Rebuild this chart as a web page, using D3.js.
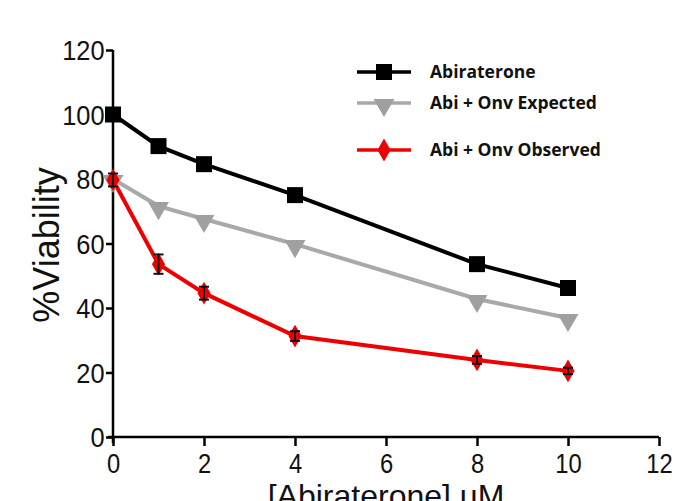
<!DOCTYPE html>
<html>
<head>
<meta charset="utf-8">
<script src="https://cdn.jsdelivr.net/npm/d3@7"></script>
<style>
body { margin: 0; background: #fff; }
</style>
</head>
<body>
<svg width="678" height="501"></svg>
<script>
// data
var doses = [0, 1, 2, 4, 8, 10];
var abiraterone = [100, 90.2, 84.6, 75, 53.6, 46.2];
var expected = [80, 71.6, 67.6, 59.8, 42.8, 36.9];
var observed = [79.7, 53.6, 44.6, 31.3, 23.9, 20.5];
var observedErr = [2, 3, 2, 1.5, 1.2, 1];
var xTicks = [0, 2, 4, 6, 8, 10, 12];
var yTicks = [0, 20, 40, 60, 80, 100, 120];
var seriesNames = ["Abiraterone", "Abi + Onv Expected", "Abi + Onv Observed"];

var svg = d3.select("svg");

var x = d3.scaleLinear().domain([0, 12]).range([113, 659]);
var y = d3.scaleLinear().domain([0, 120]).range([437, 50]);

// axes
var xAxis = svg.append("g")
  .attr("transform", "translate(0," + y(0) + ")")
  .call(d3.axisBottom(x).tickValues(xTicks).tickSize(9).tickPadding(8).tickFormat(d3.format("d")));
var yAxis = svg.append("g")
  .attr("transform", "translate(" + x(0) + ",0)")
  .call(d3.axisLeft(y).tickValues(yTicks).tickSize(7).tickPadding(2).tickFormat(d3.format("d")));

[xAxis, yAxis].forEach(function (g) {
  g.select(".domain").attr("stroke", "#000").attr("stroke-width", 2.5);
  g.selectAll(".tick line").attr("stroke", "#000").attr("stroke-width", 2.5);
  g.selectAll(".tick text")
    .attr("fill", "#111")
    .style("font-family", "Liberation Sans, Arial, sans-serif")
    .style("font-size", "27px");
});
xAxis.selectAll(".tick text").attr("transform", "scale(0.88,1)");
yAxis.selectAll(".tick text").attr("transform", "scale(0.94,1)").attr("dy", "0.36em");
xAxis.select(".domain").attr("d", "M" + (x(0) - 5) + ",0H" + x(12));
yAxis.select(".domain").attr("d", "M0," + (y(0) + 6) + "V" + y(120));

// axis titles
svg.append("text")
  .attr("transform", "translate(59,245) rotate(-90)")
  .attr("text-anchor", "middle")
  .style("font-family", "Liberation Sans, Arial, sans-serif")
  .style("font-size", "36px")
  .attr("fill", "#111")
  .text("%Viability");

svg.append("text")
  .attr("x", 386)
  .attr("y", 507)
  .attr("text-anchor", "middle")
  .style("font-family", "Liberation Sans, Arial, sans-serif")
  .style("font-size", "32px")
  .attr("fill", "#111")
  .text("[Abiraterone] uM");

var line = d3.line()
  .x(function (d, i) { return x(doses[i]); })
  .y(function (d) { return y(d); });

// series lines
svg.append("path").datum(abiraterone)
  .attr("d", line).attr("fill", "none").attr("stroke", "#000").attr("stroke-width", 4);
svg.append("path").datum(expected)
  .attr("d", line).attr("fill", "none").attr("stroke", "#a9a9a9").attr("stroke-width", 4);
svg.append("path").datum(observed)
  .attr("d", line).attr("fill", "none").attr("stroke", "#ee0000").attr("stroke-width", 4);

var sq = d3.symbol().type(d3.symbolSquare).size(256);
var tri = d3.symbol().type(d3.symbolTriangle).size(190);
var dia = d3.symbol().type(d3.symbolDiamond).size(150);

svg.append("g").selectAll("path")
  .data(abiraterone).enter().append("path")
  .attr("transform", function (d, i) { return "translate(" + x(doses[i]) + "," + y(d) + ")"; })
  .attr("d", sq).attr("fill", "#000");

svg.append("g").selectAll("path")
  .data(expected).enter().append("path")
  .attr("transform", function (d, i) { return "translate(" + x(doses[i]) + "," + (y(d) + 2) + ") rotate(180)"; })
  .attr("d", tri).attr("fill", "#a0a0a0");

svg.append("g").selectAll("path")
  .data(observed).enter().append("path")
  .attr("transform", function (d, i) { return "translate(" + x(doses[i]) + "," + y(d) + ")"; })
  .attr("d", dia).attr("fill", "#ee0000");

// error bars on observed
var eb = svg.append("g").attr("stroke", "#111").attr("stroke-width", 2);
observed.forEach(function (d, i) {
  var cx = x(doses[i]);
  var top = y(d + observedErr[i]), bot = y(d - observedErr[i]);
  eb.append("line").attr("x1", cx).attr("x2", cx).attr("y1", top).attr("y2", bot);
  eb.append("line").attr("x1", cx - 5).attr("x2", cx + 5).attr("y1", top).attr("y2", top);
  eb.append("line").attr("x1", cx - 5).attr("x2", cx + 5).attr("y1", bot).attr("y2", bot);
});

// legend
var legendY = [72, 103, 150];
var legendColor = ["#000", "#a9a9a9", "#ee0000"];
var legendSym = [sq, tri, dia];
var lg = svg.append("g");
seriesNames.forEach(function (name, i) {
  var row = lg.append("g").attr("transform", "translate(0," + legendY[i] + ")");
  row.append("line").attr("x1", 357).attr("x2", 411).attr("y1", 0).attr("y2", 0)
    .attr("stroke", legendColor[i]).attr("stroke-width", 3.5);
  row.append("path")
    .attr("transform", "translate(384," + (i === 1 ? 2 : 0) + ")" + (i === 1 ? " rotate(180)" : ""))
    .attr("d", legendSym[i]).attr("fill", i === 1 ? "#a0a0a0" : legendColor[i]);
  row.append("text").attr("x", 430).attr("y", 0).attr("dy", "0.35em")
    .style("font-family", "Open Sans, Liberation Sans, sans-serif")
    .style("font-weight", "bold").style("font-size", "17.5px")
    .attr("fill", "#111")
    .text(name);
});
</script>
</body>
</html>
